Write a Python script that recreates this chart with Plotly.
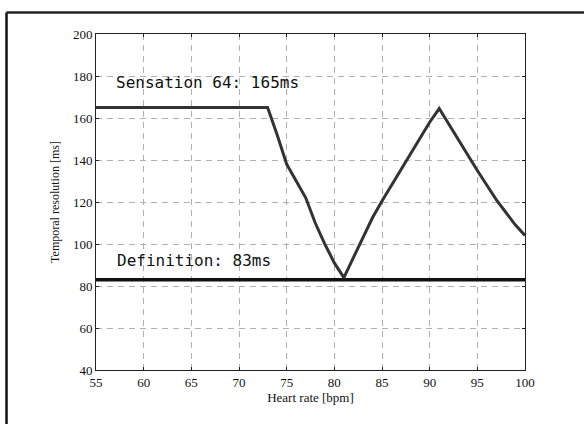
import plotly.graph_objects as go

heart_rate = [55, 73, 74, 75, 76, 77, 78, 79, 80, 81, 82, 83, 84, 85, 86, 87, 88, 89, 90,
              91, 92, 93, 94, 95, 96, 97, 98, 99, 100]
resolution = [165, 165, 152, 138, 130, 122, 110, 100, 91, 84, 93.5, 103, 112.5, 120.5, 128,
              135.5, 143.5, 151, 158, 164.5, 157, 150, 142.5, 135, 128, 121, 115, 109, 104]
definition_x = [55, 100]
definition_y = [83, 83]

x_ticks = [55, 60, 65, 70, 75, 80, 85, 90, 95, 100]
y_ticks = [40, 60, 80, 100, 120, 140, 160, 180, 200]

label_sensation = "Sensation 64: 165ms"
label_definition = "Definition: 83ms"

W, H = 584, 424
L, R, T, B = 96, 59, 34, 54
pw, ph = W - L - R, H - T - B

fig = go.Figure()
fig.add_trace(go.Scatter(x=definition_x, y=definition_y, mode="lines",
                         line=dict(color="#111111", width=3.5), showlegend=False))
fig.add_trace(go.Scatter(x=heart_rate, y=resolution, mode="lines",
                         line=dict(color="#333333", width=3), showlegend=False))

serif = "Liberation Serif, Times New Roman, serif"
mono = "DejaVu Sans Mono, monospace"

fig.add_annotation(x=56.9, y=176.7, text=label_sensation, showarrow=False,
                   xanchor="left", yanchor="middle",
                   font=dict(family=mono, size=16, color="#111111"))
fig.add_annotation(x=57.0, y=92.2, text=label_definition, showarrow=False,
                   xanchor="left", yanchor="middle",
                   font=dict(family=mono, size=16, color="#111111"))

# outer frame (extends beyond image at right and bottom)
fx = (6.5 - L) / pw
fy = (H - B - 12.5) / ph
fig.add_shape(type="line", xref="paper", yref="paper", x0=fx, x1=fx, y0=fy, y1=-0.5,
              line=dict(color="#111111", width=2.5))
fig.add_shape(type="line", xref="paper", yref="paper", x0=fx, x1=1.5, y0=fy, y1=fy,
              line=dict(color="#222222", width=2.5))

axis_common = dict(showline=True, linecolor="#222222", linewidth=1, mirror="allticks",
                   ticks="inside", ticklen=3, tickcolor="#222222",
                   showgrid=True, gridcolor="#b0b0b0", gridwidth=1, griddash="6px,5px",
                   zeroline=False, tickfont=dict(family=serif, size=13, color="#111111"))

fig.update_xaxes(range=[55, 100], tickvals=x_ticks, ticktext=[str(v) for v in x_ticks],
                 title=dict(text="Heart rate [bpm]", font=dict(family=serif, size=13, color="#111111"),
                            standoff=4),
                 **axis_common)
fig.update_yaxes(range=[40, 200], tickvals=y_ticks, ticktext=[str(v) for v in y_ticks],
                 title=dict(text="Temporal resolution [ms]", font=dict(family=serif, size=12, color="#111111"),
                            standoff=10),
                 **axis_common)

fig.update_layout(width=W, height=H, margin=dict(l=L, r=R, t=T, b=B, autoexpand=False),
                  paper_bgcolor="white", plot_bgcolor="white")

fig.write_html("out.html", config={"displayModeBar": False},
               post_script="document.body.style.margin='0';document.body.style.overflow='hidden';")
